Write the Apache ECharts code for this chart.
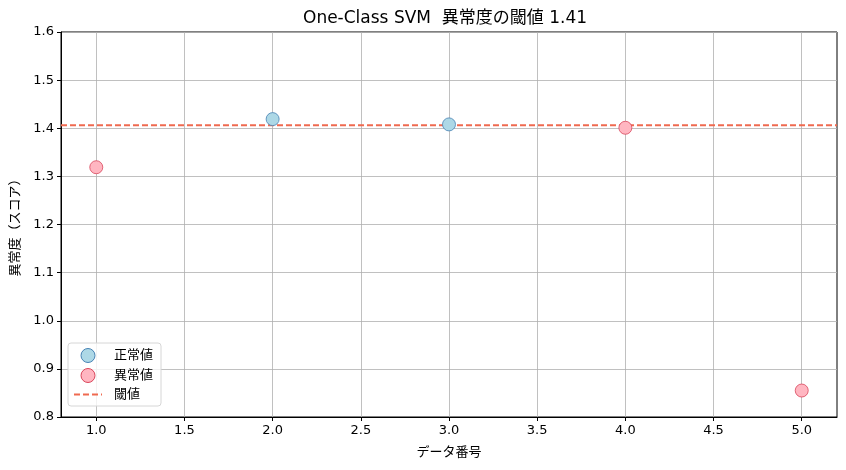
<!DOCTYPE html>
<html><head><meta charset="utf-8">
<script src="https://cdn.jsdelivr.net/npm/echarts@6/dist/echarts.min.js"></script>
<style>html,body{margin:0;padding:0;background:#fff}#c{width:846px;height:470px}</style>
</head><body><div id="c"></div>
<script>
const normalX = [2, 3];
const normalY = [1.419, 1.408];
const anomalyX = [1, 4, 5];
const anomalyY = [1.319, 1.401, 0.855];
const threshold = 1.406;
const xTicks = [1.0, 1.5, 2.0, 2.5, 3.0, 3.5, 4.0, 4.5, 5.0];
const yTicks = [0.8, 0.9, 1.0, 1.1, 1.2, 1.3, 1.4, 1.5, 1.6];
const xRange = [0.8, 5.2];

const font = '"DejaVu Sans", "Noto Sans CJK JP", sans-serif';
const chart = echarts.init(document.getElementById('c'), null, {renderer: 'canvas'});
chart.setOption({
  animation: false,
  textStyle: {fontFamily: font},
  title: {
    text: 'One-Class SVM  異常度の閾値 ' + threshold.toFixed(2),
    left: 298, top: 5,
    textStyle: {fontSize: 17, fontWeight: 'normal', color: '#000', fontFamily: font}
  },
  grid: {left: 61, right: 9, top: 32, bottom: 53, show: true, borderColor: '#000', borderWidth: 1, backgroundColor: 'transparent'},
  legend: {
    orient: 'vertical', left: 68, top: 343,
    data: [
      {name: '正常値', icon: 'circle', itemStyle: {borderWidth: 1}},
      {name: '異常値', icon: 'circle', itemStyle: {borderWidth: 1}},
      {name: '閾値', itemStyle: {opacity: 0}, lineStyle: {width: 2, type: [6, 3]}}
    ],
    itemWidth: 28, itemHeight: 14, itemGap: 5,
    padding: [5, 8, 5, 5],
    borderColor: '#d6d6d6', borderWidth: 1, borderRadius: 3,
    backgroundColor: 'rgba(255,255,255,0.8)',
    textStyle: {fontSize: 13, color: '#000', fontFamily: font, padding: [0, 0, 0, 7]}
  },
  xAxis: {
    type: 'value', min: xRange[0], max: xRange[1],
    name: 'データ番号', nameLocation: 'middle', nameGap: 29,
    nameTextStyle: {fontSize: 13, color: '#000', fontFamily: font},
    axisLine: {show: true, onZero: false, lineStyle: {color: '#000'}},
    axisTick: {show: true, length: 4, lineStyle: {color: '#000'}, customValues: xTicks},
    axisLabel: {color: '#000', fontSize: 13, margin: 7, customValues: xTicks, formatter: v => v.toFixed(1)},
    splitLine: {show: true, lineStyle: {color: '#b0b0b0', width: 0.8}}
  },
  yAxis: {
    type: 'value', min: 0.8, max: 1.6, interval: 0.1,
    name: '異常度（スコア）', nameLocation: 'middle', nameGap: 38, nameRotate: 90,
    nameTextStyle: {fontSize: 13, color: '#000', fontFamily: font},
    axisLine: {show: true, onZero: false, lineStyle: {color: '#000'}},
    axisTick: {show: true, length: 4, lineStyle: {color: '#000'}},
    axisLabel: {color: '#000', fontSize: 13, margin: 7, formatter: v => v.toFixed(1)},
    splitLine: {show: true, lineStyle: {color: '#b0b0b0', width: 0.8}}
  },
  series: [
    {
      name: '正常値', type: 'scatter', symbolSize: 13, z: 5,
      data: normalX.map((x, i) => [x, normalY[i]]),
      itemStyle: {color: '#add8e6', borderColor: '#4682b4', borderWidth: 0.8, opacity: 1}
    },
    {
      name: '異常値', type: 'scatter', symbolSize: 13, z: 5,
      data: anomalyX.map((x, i) => [x, anomalyY[i]]),
      itemStyle: {color: '#ffb6c1', borderColor: '#d9455a', borderWidth: 0.8, opacity: 1}
    },
    {
      name: '閾値', type: 'line', showSymbol: false, symbol: 'none', z: 4,
      data: [[xRange[0], threshold], [xRange[1], threshold]],
      lineStyle: {color: '#ef6a50', width: 2, type: [6, 3]},
      itemStyle: {color: '#ef6a50'}
    }
  ]
});
</script></body></html>
